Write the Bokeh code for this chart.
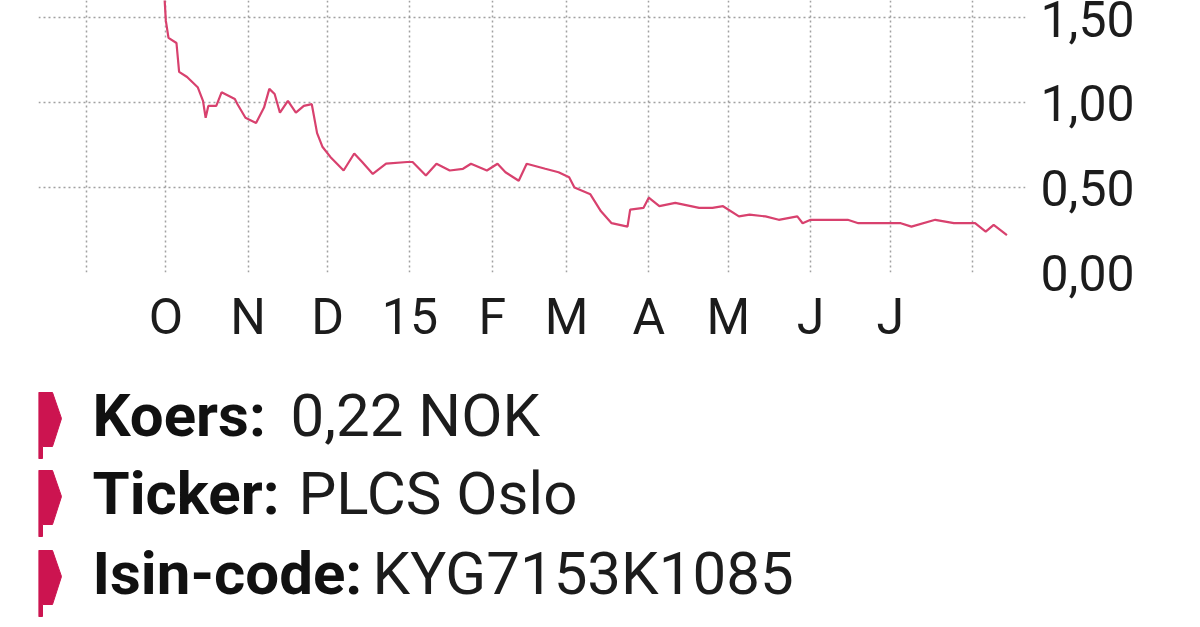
import pandas as pd
from bokeh.plotting import figure
from bokeh.layouts import column
from bokeh.models import Range1d, FixedTicker
from bokeh.core.properties import value
from bokeh.embed import file_html
from bokeh.resources import INLINE

# ---- data ----
dates = [
    "2014-09-30", "2014-10-01", "2014-10-02", "2014-10-05", "2014-10-06", "2014-10-09", "2014-10-13",
    "2014-10-15", "2014-10-16", "2014-10-17", "2014-10-20", "2014-10-22", "2014-10-27", "2014-10-28",
    "2014-10-31",
    "2014-11-04", "2014-11-07", "2014-11-09", "2014-11-11", "2014-11-13", "2014-11-16", "2014-11-19",
    "2014-11-22", "2014-11-25", "2014-11-27", "2014-11-29",
    "2014-12-02", "2014-12-07", "2014-12-11", "2014-12-14", "2014-12-18", "2014-12-23", "2014-12-31",
    "2015-01-02", "2015-01-07", "2015-01-11", "2015-01-16", "2015-01-21", "2015-01-24", "2015-01-30",
    "2015-02-03", "2015-02-06", "2015-02-11", "2015-02-14", "2015-02-21", "2015-02-26",
    "2015-03-02", "2015-03-04", "2015-03-10", "2015-03-14", "2015-03-18", "2015-03-24", "2015-03-25",
    "2015-03-30",
    "2015-04-01", "2015-04-05", "2015-04-11", "2015-04-20", "2015-04-25", "2015-04-29",
    "2015-05-05", "2015-05-09", "2015-05-15", "2015-05-20", "2015-05-27", "2015-05-29",
    "2015-06-01", "2015-06-15", "2015-06-19", "2015-06-30",
    "2015-07-05", "2015-07-09", "2015-07-18", "2015-07-25",
    "2015-08-02", "2015-08-06", "2015-08-09", "2015-08-14",
]
prices = [
    1.75, 1.48, 1.38, 1.35, 1.18, 1.15, 1.09, 1.01, 0.91, 0.98, 0.98, 1.06, 1.02, 0.99, 0.91,
    0.88, 0.97, 1.08, 1.05, 0.94, 1.01, 0.94, 0.98, 0.99, 0.82, 0.74,
    0.68, 0.60, 0.70, 0.65, 0.58, 0.64, 0.65,
    0.65, 0.57, 0.64, 0.60, 0.61, 0.64, 0.60,
    0.64, 0.59, 0.54, 0.64, 0.61, 0.59,
    0.56, 0.50, 0.46, 0.36, 0.29, 0.27, 0.37, 0.38,
    0.44, 0.39, 0.41, 0.38, 0.38, 0.39,
    0.33, 0.34, 0.33, 0.31, 0.33, 0.29,
    0.31, 0.31, 0.29, 0.29,
    0.29, 0.27, 0.31, 0.29,
    0.29, 0.24, 0.28, 0.22,
]
tick_dates = ["2014-09-01", "2014-10-01", "2014-11-01", "2014-12-01", "2015-01-01", "2015-02-01",
              "2015-03-01", "2015-04-01", "2015-05-01", "2015-06-01", "2015-07-01", "2015-08-01"]
tick_labels = ["", "O", "N", "D", "15", "F", "M", "A", "M", "J", "J", ""]
y_ticks = [0.0, 0.5, 1.0, 1.5]
y_tick_labels = ["0,00", "0,50", "1,00", "1,50"]
info_labels = ["Koers:", "Ticker:", "Isin-code:"]
info_values = ["0,22 NOK", "PLCS Oslo", "KYG7153K1085"]

FONT = "Roboto"
W = 1192
H1 = 360
H2 = 259
FL, FR = 38, 1025  # frame left/right in page pixels

x = pd.to_datetime(dates)
tick_ms = [pd.Timestamp(d).value / 1e6 for d in tick_dates]

p = figure(width=W, height=H1, x_axis_type="datetime", y_axis_location="right",
           x_range=Range1d(pd.Timestamp("2014-08-14"), pd.Timestamp("2015-08-21")),
           y_range=Range1d(0, 1.6),
           output_backend="svg", toolbar_location=None,
           min_border_left=FL, min_border_right=W - FR, min_border_top=0, min_border_bottom=88)
p.outline_line_color = None
p.background_fill_color = "white"
p.border_fill_color = "white"

p.line(x, prices, line_color="#d8416e", line_width=2.2)

p.xaxis.ticker = FixedTicker(ticks=tick_ms)
p.xaxis.major_label_overrides = {t: l for t, l in zip(tick_ms, tick_labels)}
p.yaxis.ticker = FixedTicker(ticks=y_ticks)
p.yaxis.major_label_overrides = {t: l for t, l in zip(y_ticks, y_tick_labels)}
for ax in p.axis:
    ax.axis_line_color = None
    ax.major_tick_line_color = None
    ax.minor_tick_line_color = None
    ax.major_label_text_font = FONT
    ax.major_label_text_font_size = "50px"
    ax.major_label_text_color = "#1c1c1c"
p.xaxis.major_label_standoff = 9
p.yaxis.major_label_standoff = 9

for g in (p.xgrid, p.ygrid):
    g.grid_line_color = "#8a8a8a"
    g.grid_line_dash = "2 3"
    g.grid_line_width = 1.5
    g.grid_line_alpha = 0.8

# ---- info block (its frame is aligned with the chart frame; data units = page pixels) ----
t = figure(width=W, height=H2, x_range=Range1d(FL, FR), y_range=Range1d(H1 + H2, H1),
           x_axis_type=None, y_axis_type=None,
           output_backend="svg", toolbar_location=None,
           min_border_left=FL, min_border_right=W - FR, min_border_top=0, min_border_bottom=0)
t.grid.visible = False
t.outline_line_color = None
t.background_fill_color = "white"
t.border_fill_color = "white"

bullet_mid = [418, 496, 576]
baselines = [m - 3 for m in bullet_mid]
label_x = [92, 92, 92]
value_x = [290, 298, 372]

xs, ys = [], []
for m in bullet_mid:
    xs.append([38, 52, 61, 52, 42, 42, 38])
    ys.append([m - 26, m - 26, m, m + 28, m + 28, m + 40, m + 40])
t.patches(xs, ys, fill_color="#cc1450", line_color="#cc1450", line_width=1)

t.text(x=label_x, y=baselines, text=info_labels, text_font=value(FONT), text_font_style="bold",
       text_font_size="60px", text_baseline="alphabetic", text_color="#111111")
t.text(x=value_x, y=baselines, text=info_values, text_font=value(FONT),
       text_font_size="60px", text_baseline="alphabetic", text_color="#1c1c1c")

layout = column(p, t, spacing=0)
open("out.html", "w").write(file_html(layout, INLINE))
